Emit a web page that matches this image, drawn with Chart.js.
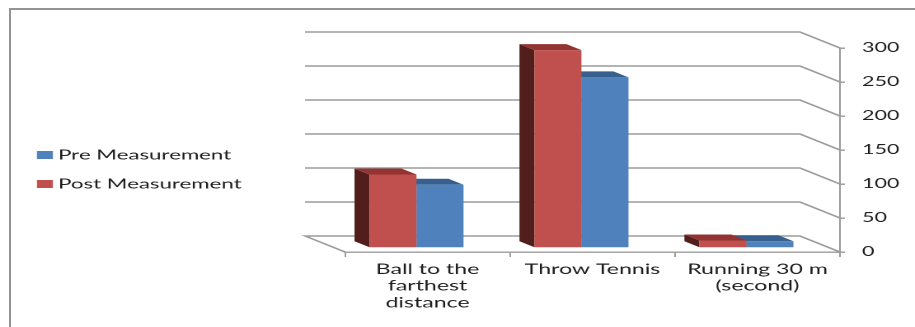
<!DOCTYPE html>
<html>
<head>
<meta charset="utf-8">
<script src="https://cdn.jsdelivr.net/npm/chart.js@4"></script>
<style>
  body { margin: 0; background: #fff; overflow: hidden; }
  #frame { position: absolute; left: 9px; top: 8px; width: 920px; height: 330px;
           border-top: 2px solid #939393; border-left: 2px solid #939393; }
  #wrap { position: absolute; left: 0; top: 0; transform-origin: 0 0; transform: scaleX(1.6486); }
  #myChart { display: block; width: 555px; height: 327px; }
</style>
</head>
<body>
<div id="frame"></div>
<div id="wrap"><canvas id="myChart" width="555" height="327"></canvas></div>
<script>
// data
const categories = [["Ball to the", "farthest", "distance"], ["Throw Tennis"], ["Running 30 m", "(second)"]];
const postValues = [108, 291, 11];
const preValues = [93, 251, 10];
const yTicks = [0, 50, 100, 150, 200, 250, 300];

const ctx = document.querySelector("#myChart").getContext('2d');

// fake 3D: depth of the floor, depth of a bar, shift of the bar fronts
const floorDepth = { x: -24.3, y: -16 };
const barDepth = { x: -9.1, y: -6 };
const barShift = { x: -6.7, y: -4 };
const gridColor = '#9b9b9b';

const threeD = {
  id: 'threeD',
  beforeDatasetsDraw(chart) {
    const c = chart.ctx;
    const area = chart.chartArea;
    const y = chart.scales.y;
    c.save();
    c.strokeStyle = gridColor;
    c.lineWidth = 1.4;
    yTicks.forEach(v => {
      const py = y.getPixelForValue(v);
      c.beginPath();
      if (v === yTicks[0]) {
        c.moveTo(area.left, py);
        c.lineTo(area.left + floorDepth.x, py + floorDepth.y);
      } else {
        c.moveTo(area.left + floorDepth.x, py + floorDepth.y);
      }
      c.lineTo(area.right + floorDepth.x, py + floorDepth.y);
      c.lineTo(area.right, py);
      c.stroke();
    });
    c.restore();

    // bar sides and tops, right series first
    c.save();
    c.translate(barShift.x, barShift.y);
    for (let d = chart.data.datasets.length - 1; d >= 0; d--) {
      const ds = chart.data.datasets[d];
      chart.getDatasetMeta(d).data.forEach(bar => {
        const l = bar.x - bar.width / 2, r = bar.x + bar.width / 2;
        c.fillStyle = ds.sideColor;
        c.beginPath();
        c.moveTo(l, bar.y);
        c.lineTo(l + barDepth.x, bar.y + barDepth.y);
        c.lineTo(l + barDepth.x, bar.base + barDepth.y);
        c.lineTo(l, bar.base);
        c.closePath();
        c.fill();
        c.fillStyle = ds.topColor;
        c.beginPath();
        c.moveTo(l, bar.y);
        c.lineTo(r, bar.y);
        c.lineTo(r + barDepth.x, bar.y + barDepth.y);
        c.lineTo(l + barDepth.x, bar.y + barDepth.y);
        c.closePath();
        c.fill();
      });
    }
    // fronts are drawn by chart.js inside this shift
  },
  afterDatasetsDraw(chart) {
    chart.ctx.restore();
  },
  afterDraw(chart) {
    // legend, Pre first
    const c = chart.ctx;
    const rows = [{ i: 1, y: 155 }, { i: 0, y: 184 }];
    c.save();
    c.font = '13.5px Lato';
    c.textBaseline = 'middle';
    rows.forEach(row => {
      const ds = chart.data.datasets[row.i];
      c.fillStyle = ds.backgroundColor;
      c.fillRect(22.4, row.y - 4, 9.7, 8);
      c.fillStyle = '#1e1e1e';
      c.fillText(ds.label, 35.2, row.y);
    });
    c.restore();
  }
};

const config = {
  type: 'bar',
  data: {
    labels: categories,
    datasets: [
      {
        label: 'Post Measurement',
        data: postValues,
        backgroundColor: '#c0504d',
        sideColor: '#511e1c',
        topColor: '#923431',
        categoryPercentage: 0.57,
        barPercentage: 1,
        clip: false
      },
      {
        label: 'Pre Measurement',
        data: preValues,
        backgroundColor: '#4f81bd',
        sideColor: '#243f62',
        topColor: '#38608f',
        categoryPercentage: 0.57,
        barPercentage: 1,
        clip: false
      }
    ]
  },
  options: {
    responsive: false,
    animation: false,
    devicePixelRatio: 2,
    events: [],
    layout: { padding: { left: 209.3, top: 48, right: 0, bottom: 0 } },
    plugins: {
      legend: { display: false },
      tooltip: { enabled: false }
    },
    scales: {
      x: {
        afterFit: s => { s.height = 75; s.paddingLeft = 0; s.paddingRight = 0; },
        grid: { drawOnChartArea: false, tickLength: 5, color: gridColor, lineWidth: 1 },
        border: { color: gridColor, width: 1.4 },
        ticks: { color: '#1e1e1e', padding: 4, font: { family: 'Lato', size: 14, lineHeight: 1.2 }, maxRotation: 0 }
      },
      y: {
        position: 'right',
        min: yTicks[0],
        max: yTicks[yTicks.length - 1],
        afterFit: s => { s.width = 45.5; s.paddingTop = 0; s.paddingBottom = 0; },
        grid: { drawOnChartArea: false, tickLength: 3, color: gridColor, lineWidth: 1.4 },
        border: { color: gridColor, width: 1 },
        ticks: { stepSize: yTicks[1] - yTicks[0], color: '#1e1e1e', padding: 10.4, font: { family: 'Lato', size: 13 } }
      }
    }
  },
  plugins: [threeD]
};

let chart = new Chart(ctx, config);
</script>
</body>
</html>
